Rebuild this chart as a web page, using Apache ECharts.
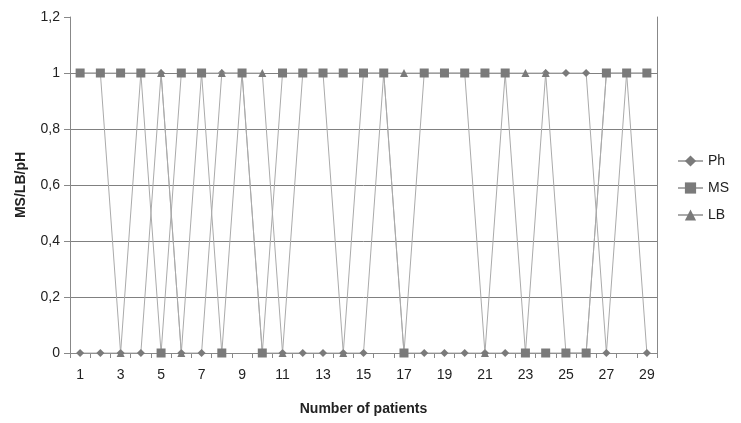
<!DOCTYPE html>
<html>
<head>
<meta charset="utf-8">
<script src="https://cdn.jsdelivr.net/npm/echarts@6/dist/echarts.min.js"></script>
<style>
html,body{margin:0;padding:0;background:#fff;}
#chart{width:741px;height:423px;}
</style>
</head>
<body>
<div id="chart"></div>
<script>
const patients = ['1','2','3','4','5','6','7','8','9','10','11','12','13','14','15','16','17','18','19','20','21','22','23','24','25','26','27','28','29'];
const ph = [0,0,0,0,1,0,0,1,1,0,0,0,0,0,0,1,0,0,0,0,0,0,0,1,1,1,0,1,0];
const ms = [1,1,1,1,0,1,1,0,1,0,1,1,1,1,1,1,0,1,1,1,1,1,0,0,0,0,1,1,1];
const lb = [1,1,0,1,1,0,1,1,1,1,0,1,1,0,1,1,1,1,1,1,0,1,1,1,0,0,1,1,1];
const yTicks = [0, 0.2, 0.4, 0.6, 0.8, 1, 1.2];

const font = 'Liberation Sans, Arial, sans-serif';
const lineColor = '#aaaaaa';
const markColor = '#7a7a7a';

function mkSeries(name, data, symbol, size, z) {
  return {
    name: name, type: 'line', data: data, symbol: symbol, symbolSize: size,
    showAllSymbol: true, z: z,
    lineStyle: {color: lineColor, width: 1},
    itemStyle: {color: markColor},
    emphasis: {disabled: true},
    animation: false
  };
}

const chart = echarts.init(document.getElementById('chart'));
chart.setOption({
  animation: false,
  grid: {left: 70, right: 84, top: 17, bottom: 70},
  legend: {
    orient: 'vertical', left: 672, top: 149, itemGap: 13,
    itemWidth: 25, itemHeight: 14,
    data: ['Ph', 'MS', 'LB'],
    textStyle: {fontFamily: font, fontSize: 14, color: '#222'}
  },
  xAxis: {
    type: 'category', data: patients, boundaryGap: true,
    axisLine: {lineStyle: {color: '#888', width: 1}},
    axisTick: {show: true, interval: 0, length: 5, lineStyle: {color: '#888'}},
    axisLabel: {interval: 1, margin: 15, fontFamily: font, fontSize: 14, color: '#222'},
    name: 'Number of patients', nameLocation: 'middle', nameGap: 49,
    nameTextStyle: {fontFamily: font, fontSize: 14, fontWeight: 'bold', color: '#222'}
  },
  yAxis: [{
    type: 'value', min: 0, max: 1.2, interval: 0.2,
    axisLine: {show: true, lineStyle: {color: '#888', width: 1}},
    axisTick: {show: true, length: 6, lineStyle: {color: '#888'}},
    axisLabel: {margin: 10, fontFamily: font, fontSize: 14, color: '#222',
      formatter: v => String(Math.round(v * 10) / 10).replace('.', ',')},
    splitLine: {show: true, showMaxLine: false, showMinLine: false, lineStyle: {color: '#808080', width: 1}},
    name: 'MS/LB/pH', nameLocation: 'middle', nameGap: 42, nameRotate: 90,
    nameTextStyle: {fontFamily: font, fontSize: 14, fontWeight: 'bold', color: '#222'}
  }, {
    type: 'value', min: 0, max: 1.2, interval: 0.2, position: 'right',
    axisLine: {show: true, lineStyle: {color: '#888', width: 1}},
    axisTick: {show: false}, axisLabel: {show: false}, splitLine: {show: false}
  }],
  series: [
    mkSeries('Ph', ph, 'diamond', 8, 2),
    mkSeries('MS', ms, 'rect', 9, 4),
    mkSeries('LB', lb, 'triangle', 8, 3)
  ]
});
</script>
</body>
</html>
